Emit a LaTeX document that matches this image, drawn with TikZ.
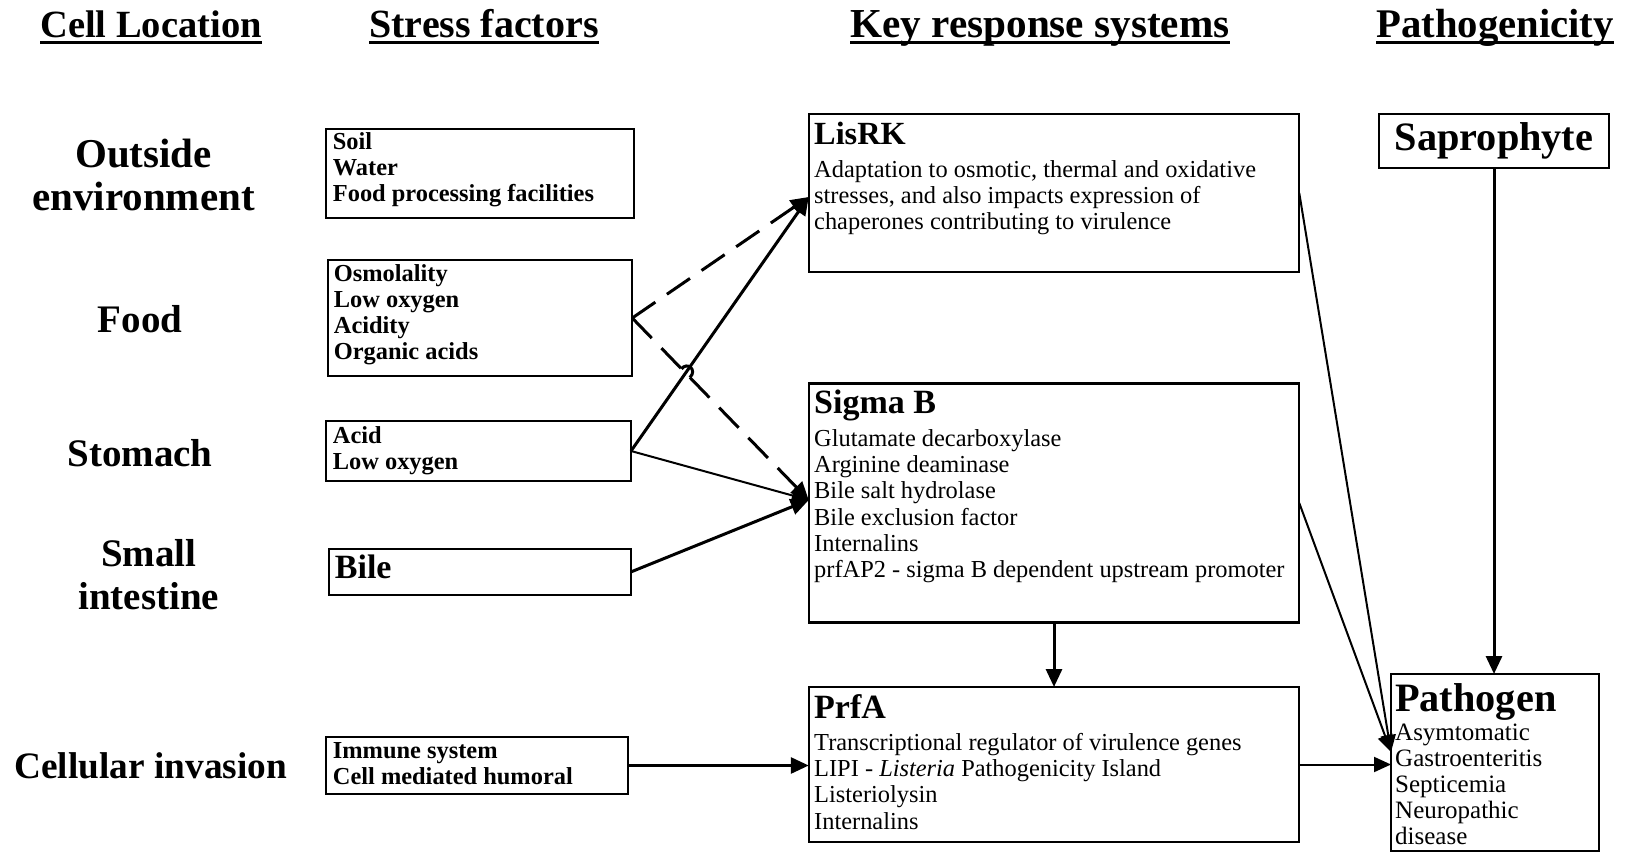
\documentclass[tikz,border=0pt]{standalone}
\usepackage{fontspec}
\setmainfont{Liberation Serif}
\usetikzlibrary{arrows.meta,calc}
\begin{document}
\begin{tikzpicture}[x=1pt,y=-1pt,
  box/.style={draw, line width=2.2pt, inner sep=0pt, outer sep=0pt},
  txt/.style={anchor=north west, inner sep=0pt, align=left},
  hdr/.style={inner sep=0pt, anchor=base, font=\fontsize{40}{44}\selectfont\bfseries},
  loc/.style={inner sep=0pt, align=center, font=\fontsize{39}{42.6}\selectfont\bfseries},
  sfb/.style={font=\fontsize{24.4}{26}\selectfont\bfseries},
  rsb/.style={font=\fontsize{24.4}{26.3}\selectfont},
  ttl/.style={font=\fontsize{34}{38}\selectfont\bfseries},
  pttl/.style={font=\fontsize{40.3}{42}\selectfont\bfseries},
  arrthick/.style={line width=3pt, -{Triangle[length=18pt,width=16pt]}},
  arrthin/.style={line width=2pt, -{Triangle[length=17pt,width=15pt]}},
  dsh/.style={line width=3pt, dash pattern=on 28pt off 14pt},
  dsharr/.style={dsh, -{Triangle[length=18pt,width=16pt]}}
]
\useasboundingbox[fill=white] (0,0) rectangle (1630,853);

% headers
\node[hdr, font=\fontsize{38.5}{42}\selectfont\bfseries] (h1) at (151,37.5) {Cell Location};
\node[hdr] (h2) at (484,37.5) {Stress factors};
\node[hdr, font=\fontsize{41.2}{44}\selectfont\bfseries] (h3) at (1040,37.5) {Key response systems};
\node[hdr, font=\fontsize{40.7}{44}\selectfont\bfseries] (h4) at (1495,37.5) {Pathogenicity};
\foreach \h in {h1,h2,h3,h4}{
  \draw[line width=3pt] ($(\h.base west)+(0,5)$) -- ($(\h.base east)+(0,5)$);
}

% locations
\node[loc, font=\fontsize{41}{42.6}\selectfont\bfseries] (l1) at (143.5,175) {Outside\\environment};
\node[loc] (l2) at (140,319) {Food};
\node[loc] (l3) at (140,453) {Stomach};
\node[loc] (l4) at (148.7,574.5) {Small\\intestine};
\node[loc, font=\fontsize{37.3}{42}\selectfont\bfseries] (l5) at (150.7,766) {Cellular invasion};

% stress factor boxes
\node[box, minimum width=308pt, minimum height=89pt] (soil) at (480,173.5) {};
\node[txt,sfb] (soilt) at (332.7,132) {Soil\\Water\\Food processing facilities};
\node[box, minimum width=304.5pt, minimum height=116pt] (osmo) at (480,318) {};
\node[txt,sfb] (osmot) at (333.7,264) {Osmolality\\Low oxygen\\Acidity\\Organic acids};
\node[box, minimum width=305pt, minimum height=60pt] (acid) at (478.5,451) {};
\node[txt,sfb] (acidt) at (332.7,426) {Acid\\Low oxygen};
\node[box, minimum width=301.5pt, minimum height=46pt] (bile) at (480,572) {};
\node[txt,ttl] (bilet) at (334.7,555) {Bile};
\node[box, minimum width=302pt, minimum height=57pt] (immune) at (477,765.5) {};
\node[txt,sfb] (immunet) at (332.7,742) {Immune system\\Cell mediated humoral};

% key response systems
\node[box, minimum width=490.5pt, minimum height=158pt] (lisrk) at (1054,193) {};
\node[txt,ttl,font=\fontsize{32.3}{36}\selectfont\bfseries] (lisrkt) at (814,121.5) {LisRK};
\node[txt,rsb] (lisrkb) at (814,160) {Adaptation to osmotic, thermal and oxidative\\stresses, and also impacts expression of\\chaperones contributing to virulence};
\node[box, minimum width=490.5pt, minimum height=239pt] (sigma) at (1054,503) {};
\node[txt,ttl] (sigmat) at (814,390) {Sigma B};
\node[txt,rsb] (sigmab) at (814,429) {Glutamate decarboxylase\\Arginine deaminase\\Bile salt hydrolase\\Bile exclusion factor\\Internalins\\prfAP2 - sigma B dependent upstream promoter};
\node[box, minimum width=490.5pt, minimum height=155pt] (prfa) at (1054,764.5) {};
\node[txt,ttl] (prfat) at (814,694) {PrfA};
\node[txt,rsb] (prfab) at (814,733) {Transcriptional regulator of virulence genes\\LIPI - \textit{Listeria} Pathogenicity Island\\Listeriolysin\\Internalins};

% pathogenicity
\node[box, pttl, minimum width=229.5pt, minimum height=54pt] (sapro) at (1494,141) {Saprophyte};
\node[box, minimum width=208pt, minimum height=177pt] (pathogen) at (1495,762.5) {};
\node[txt,pttl] (patht) at (1395,683) {Pathogen};
\node[txt,font=\fontsize{25}{26}\selectfont] (pathb) at (1395,723.6) {Asymtomatic\\Gastroenteritis\\Septicemia\\Neuropathic\\disease};

% connectors
\coordinate (lisin) at ($(lisrk.west)+(0,4)$);
\coordinate (sigin) at ($(sigma.west)+(0,-3)$);
\coordinate (patin) at ($(pathogen.west)+(0,-10.5)$);
\coordinate (hopa) at (681.5,368.9);
\coordinate (hopb) at (689.9,377.5);

\draw[dsharr] (osmo.east) -- (lisin);
\draw[dsh] (osmo.east) -- (hopa);
\draw[line width=3pt] (hopa) .. controls (687.2,361.3) and (697.6,369.9) .. (hopb);
\draw[dsharr] (hopb) -- (sigin);
\draw[arrthick] (acid.east) -- (lisin);
\draw[arrthin] (acid.east) -- (sigin);
\draw[arrthick] (bile.east) -- (sigin);
\draw[arrthick] (sigma.south) -- (prfa.north);
\draw[arrthick] (immune.east) -- (immune.east -| prfa.west);
\draw[arrthin] (prfa.east) -- (prfa.east -| pathogen.west);
\draw[arrthin] (lisrk.east) -- (patin);
\draw[arrthin] (sigma.east) -- (patin);
\draw[arrthick] (sapro.south) -- (sapro.south |- pathogen.north);
\end{tikzpicture}
\end{document}
